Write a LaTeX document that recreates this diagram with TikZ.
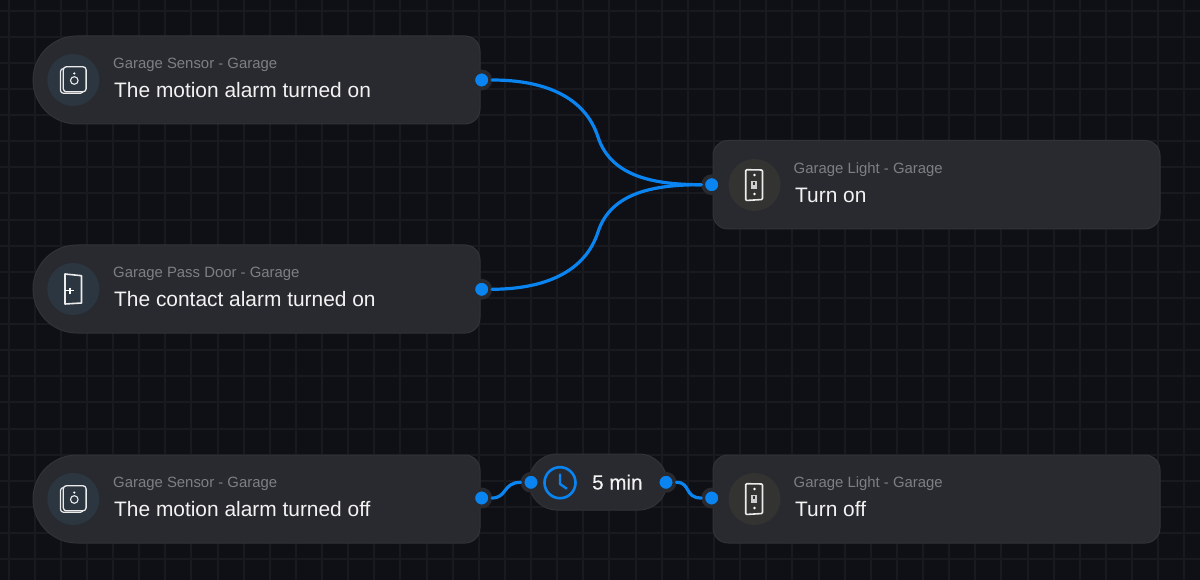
\documentclass[tikz,border=0pt]{standalone}
\usepackage{fontspec}
\setmainfont{Liberation Sans}
\newfontfamily\medfont[FakeBold=0.35]{Liberation Sans}
\definecolor{bgc}{HTML}{0F1015}
\definecolor{gridc}{HTML}{191A20}
\definecolor{cardc}{HTML}{292A2F}
\definecolor{edgec}{HTML}{323338}
\definecolor{bluec}{HTML}{0A84F0}
\definecolor{subc}{HTML}{7E7F84}
\definecolor{titlec}{HTML}{F2F2F2}
\definecolor{iconsrc}{HTML}{2C3640}
\definecolor{icontgt}{HTML}{333331}
\tikzset{
  card/.style={fill=cardc,draw=edgec,line width=1pt},
  subtxt/.style={anchor=base west,inner sep=0,text=subc,font=\fontsize{14.9}{16}\selectfont},
  titletxt/.style={anchor=base west,inner sep=0,text=titlec,font=\fontsize{20.9}{24}\selectfont},
  port/.style={circle,fill=bluec,draw=cardc,line width=3.8pt,minimum size=17pt,inner sep=0},
  wire/.style={draw=bluec,line width=3.2pt,line cap=round},
  ic/.style={draw=white!92!black,line width=1.6pt,line join=round},
  disc/.style={circle,minimum size=52pt,inner sep=0},
  gridline/.style={draw=gridc,line width=2pt},
}
\newcommand{\srccard}[2]{%
  \path[card] (77,#1) -- (465,#1) .. controls (473.3,#1) and (480,#1+6.7) .. (480,#1+15)
    -- (480,#2-15) .. controls (480,#2-6.7) and (473.3,#2) .. (465,#2)
    -- (77,#2) .. controls (52.7,#2) and (33,#2-19.7) .. (33,#2-44)
    .. controls (33,#1+19.7) and (52.7,#1) .. (77,#1) -- cycle;}
\newcommand{\sensoricon}[1]{%
  \begin{scope}[shift={(73.3,#1)}]
    \draw[ic,line width=1.2pt,rounded corners=3pt] (-12.8,-11.5) rectangle (10,13.3);
    \draw[ic,line width=1.3pt,fill=iconsrc,rounded corners=3pt] (-10,-13.2) rectangle (12.8,11.8);
    \draw[ic,line width=1.1pt] (1,0.5) circle (3.8);
    \fill[white] (1,-6.5) circle (1.2);
  \end{scope}}
\newcommand{\switchicon}[1]{%
  \begin{scope}[shift={(754,#1)}]
    \draw[ic,rounded corners=1pt] (-8.3,-15.3) -- (8.5,-15) -- (8.5,14.5) -- (-8.3,15.5) -- cycle;
    \fill[white] (0.4,-10) circle (1.4) (0.4,9) circle (1.4);
    \fill[white!80!black] (-2.6,-3.7) rectangle (3,3.7);
    \fill[icontgt] (-1.2,-2.6) rectangle (1.2,0);
  \end{scope}}
\begin{document}
\begin{tikzpicture}[x=1pt,y=-1pt]
\useasboundingbox (0,0) rectangle (1200,580);
\fill[bgc] (0,0) rectangle (1200,580);
\foreach \k in {0,...,45} {
  \pgfmathsetmacro{\gx}{round(8.5+26.13*\k)}
  \draw[gridline] (\gx,0) -- (\gx,580);
}
\foreach \k in {0,...,22} {
  \pgfmathsetmacro{\gy}{round(10.5+26.13*\k)}
  \draw[gridline] (0,\gy) -- (1200,\gy);
}
% cards
\srccard{36}{124}
\srccard{245}{333}
\srccard{455}{543}
\path[card,rounded corners=15pt] (713,140.5) rectangle (1160,229);
\path[card,rounded corners=15pt] (713,455) rectangle (1160,543);
\path[card,rounded corners=28pt] (529,454) rectangle (667,510);
% icon discs
\node[disc,fill=iconsrc] (d1) at (73.3,80) {};
\node[disc,fill=iconsrc] (d2) at (73.3,289) {};
\node[disc,fill=iconsrc] (d3) at (73.3,499) {};
\node[disc,fill=icontgt] (d4) at (754.5,185) {};
\node[disc,fill=icontgt] (d5) at (754.5,499) {};
% icons
\sensoricon{80}
\sensoricon{499}
\switchicon{185}
\switchicon{499}
\begin{scope}[shift={(73.5,289)}]
  \draw[ic] (-8.5,15) -- (-8.5,-15) -- (8,-13.3) -- (8,14) -- cycle;
  \draw[white,line width=1.1pt] (-8.5,1.7) -- (0.8,1.7);
  \draw[white,line width=1.6pt] (-3.5,-1.3) -- (-3.5,4.7);
\end{scope}
% texts
\node[subtxt] (s1) at (113,68.5) {Garage Sensor - Garage};
\node[titletxt] (t1) at (114,97.5) {The motion alarm turned on};
\node[subtxt] (s2) at (113,277.5) {Garage Pass Door - Garage};
\node[titletxt] (t2) at (114,306.5) {The contact alarm turned on};
\node[subtxt] (s3) at (113,487.5) {Garage Sensor - Garage};
\node[titletxt] (t3) at (114,516) {The motion alarm turned off};
\node[subtxt] (s4) at (793.5,173.5) {Garage Light - Garage};
\node[titletxt] (t4) at (795,202.5) {Turn on};
\node[subtxt] (s5) at (793.5,487.5) {Garage Light - Garage};
\node[titletxt] (t5) at (795,516) {Turn off};
\node[anchor=base west,inner sep=0,text=titlec,font=\medfont\fontsize{20.6}{24}\selectfont] (tm) at (592,489.5) {5 min};
% clock
\node[circle,draw=bluec,line width=2.6pt,minimum size=31pt,inner sep=0] (clk) at (560,482.7) {};
\draw[bluec,line width=2.4pt,line cap=round,line join=round] (560,474.5) -- (560,484) -- (566.5,488.5);
% ports
\node[port] (p1) at (481.7,80) {};
\node[port] (p2) at (481.7,289.3) {};
\node[port] (p3) at (711.7,184.7) {};
\node[port] (p4) at (481.7,498) {};
\node[port] (p5) at (531,482.3) {};
\node[port] (p6) at (666,482.3) {};
\node[port] (p7) at (711.7,498) {};
% connectors
\draw[wire] (p1.east) .. controls (545,80) and (585,97) .. (598,137) .. controls (611,177) and (655,184.7) .. (p3.west);
\draw[wire] (p2.east) .. controls (545,289) and (585,272) .. (598,232) .. controls (611,192) and (655,184.7) .. (p3.west);
\draw[wire] (p4.east) .. controls (507,498) and (503,482.3) .. (p5.west);
\draw[wire] (p6.east) .. controls (691,482.3) and (684,498) .. (p7.west);
\end{tikzpicture}
\end{document}
